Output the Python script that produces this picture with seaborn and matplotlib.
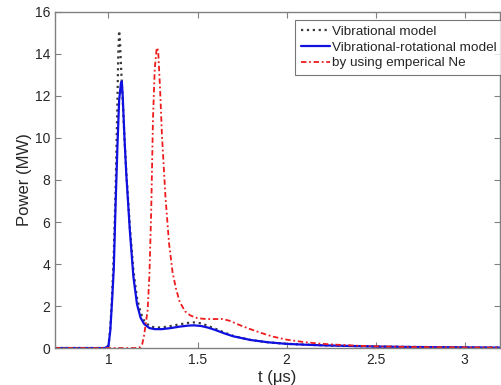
import numpy as np
import pandas as pd
import seaborn as sns
import matplotlib.pyplot as plt

# --- data ---
t_vib = [0.70, 0.98, 1.00, 1.01, 1.02, 1.03, 1.04, 1.05, 1.055, 1.06, 1.065, 1.07, 1.08,
         1.09, 1.10, 1.12, 1.14, 1.16, 1.18, 1.20, 1.23, 1.26, 1.30, 1.35, 1.40, 1.45,
         1.48, 1.52, 1.56, 1.60, 1.65, 1.70, 1.80, 1.90, 2.00, 2.20, 2.50, 3.00, 3.20]
p_vib = [0, 0, 0.1, 0.9, 2.4, 4.5, 7.5, 11.5, 14.0, 15.1, 14.6, 13.5, 11.8,
         10.0, 8.4, 5.8, 3.7, 2.4, 1.7, 1.3, 1.05, 0.98, 0.98, 1.05, 1.13, 1.2,
         1.22, 1.18, 1.05, 0.92, 0.74, 0.58, 0.38, 0.27, 0.2, 0.13, 0.07, 0.03, 0.02]

t_vibrot = [0.70, 0.98, 1.00, 1.01, 1.02, 1.03, 1.04, 1.05, 1.06, 1.07, 1.075, 1.08, 1.09,
            1.10, 1.12, 1.14, 1.16, 1.18, 1.20, 1.23, 1.26, 1.30, 1.35, 1.40, 1.45, 1.48,
            1.52, 1.56, 1.60, 1.65, 1.70, 1.80, 1.90, 2.00, 2.10, 2.20, 2.35, 2.50, 2.70,
            3.00, 3.20]
p_vibrot = [0, 0, 0.1, 0.8, 2.2, 3.8, 6.8, 9.5, 11.8, 12.6, 12.7, 12.0, 10.0,
            8.3, 5.6, 3.4, 2.1, 1.45, 1.15, 0.95, 0.9, 0.9, 0.95, 1.02, 1.07, 1.08,
            1.05, 0.97, 0.86, 0.7, 0.56, 0.38, 0.27, 0.2, 0.16, 0.13, 0.1, 0.07, 0.05,
            0.03, 0.02]

t_ne = [0.70, 1.15, 1.18, 1.19, 1.20, 1.21, 1.22, 1.23, 1.24, 1.25, 1.26, 1.27, 1.275,
        1.28, 1.29, 1.30, 1.32, 1.34, 1.36, 1.38, 1.40, 1.43, 1.46, 1.50, 1.55, 1.60,
        1.64, 1.68, 1.72, 1.78, 1.85, 1.92, 2.00, 2.10, 2.20, 2.30, 2.40, 2.50, 2.70,
        3.00, 3.20]
p_ne = [0, 0, 0.05, 0.2, 0.6, 1.2, 1.8, 3.5, 6.5, 10.9, 13.3, 14.2, 14.3,
        14.0, 12.3, 10.2, 7.2, 5.0, 3.6, 2.8, 2.2, 1.75, 1.55, 1.42, 1.38, 1.38,
        1.38, 1.3, 1.15, 0.95, 0.74, 0.55, 0.4, 0.28, 0.2, 0.15, 0.11, 0.08, 0.05,
        0.03, 0.02]

labels = ['Vibrational model', 'Vibrational-rotational model', 'by using emperical Ne']
x_ticks = [1, 1.5, 2, 2.5, 3]
x_tick_labels = ['1', '1.5', '2', '2.5', '3']
y_ticks = list(range(0, 17, 2))

sns.set_style('white')
plt.rcParams['font.family'] = ['Liberation Sans', 'DejaVu Sans']

fig = plt.figure(figsize=(5.02, 3.85), dpi=100)
ax = fig.add_axes([0.1096, 0.096, 0.887, 0.873])

sns.lineplot(x=t_vib, y=p_vib, ax=ax, color='#3a3a3a', linestyle=':', linewidth=1.6,
             label=labels[0])
sns.lineplot(x=t_vibrot, y=p_vibrot, ax=ax, color='#1010e0', linestyle='-', linewidth=1.6,
             label=labels[1])
sns.lineplot(x=t_ne, y=p_ne, ax=ax, color='#ee1c1c', linewidth=1.3,
             dashes=False, label=labels[2])
ax.lines[-1].set_dashes([3, 1.5, 1, 1.5])

ax.set_xlim(0.7, 3.2)
ax.set_ylim(0, 16)
ax.set_xticks(x_ticks)
ax.set_xticklabels(x_tick_labels)
ax.set_yticks(y_ticks)
ax.tick_params(direction='in', length=4, width=0.8, colors='#808080', labelcolor='#262626',
               labelsize=10, top=True, right=True, bottom=True, left=True)
for s in ax.spines.values():
    s.set_color('#808080')
    s.set_linewidth(1.0)

ax.set_xlabel('t (\u03bcs)', fontsize=12, color='#262626', labelpad=2)
ax.set_ylabel('Power (MW)', fontsize=12, color='#262626', labelpad=2)

leg = ax.legend(loc='upper right', bbox_to_anchor=(1.003, 0.976), borderaxespad=0,
                fontsize=9.7, handlelength=2.2, handletextpad=0.1, labelspacing=0.25,
                borderpad=0.4, frameon=True, fancybox=False)
leg.get_frame().set_edgecolor('#555555')
leg.get_frame().set_linewidth(0.8)
leg.legend_handles[2].set_dashes([3, 1.5, 1, 1.5])

fig.savefig('out.png', dpi=100)
